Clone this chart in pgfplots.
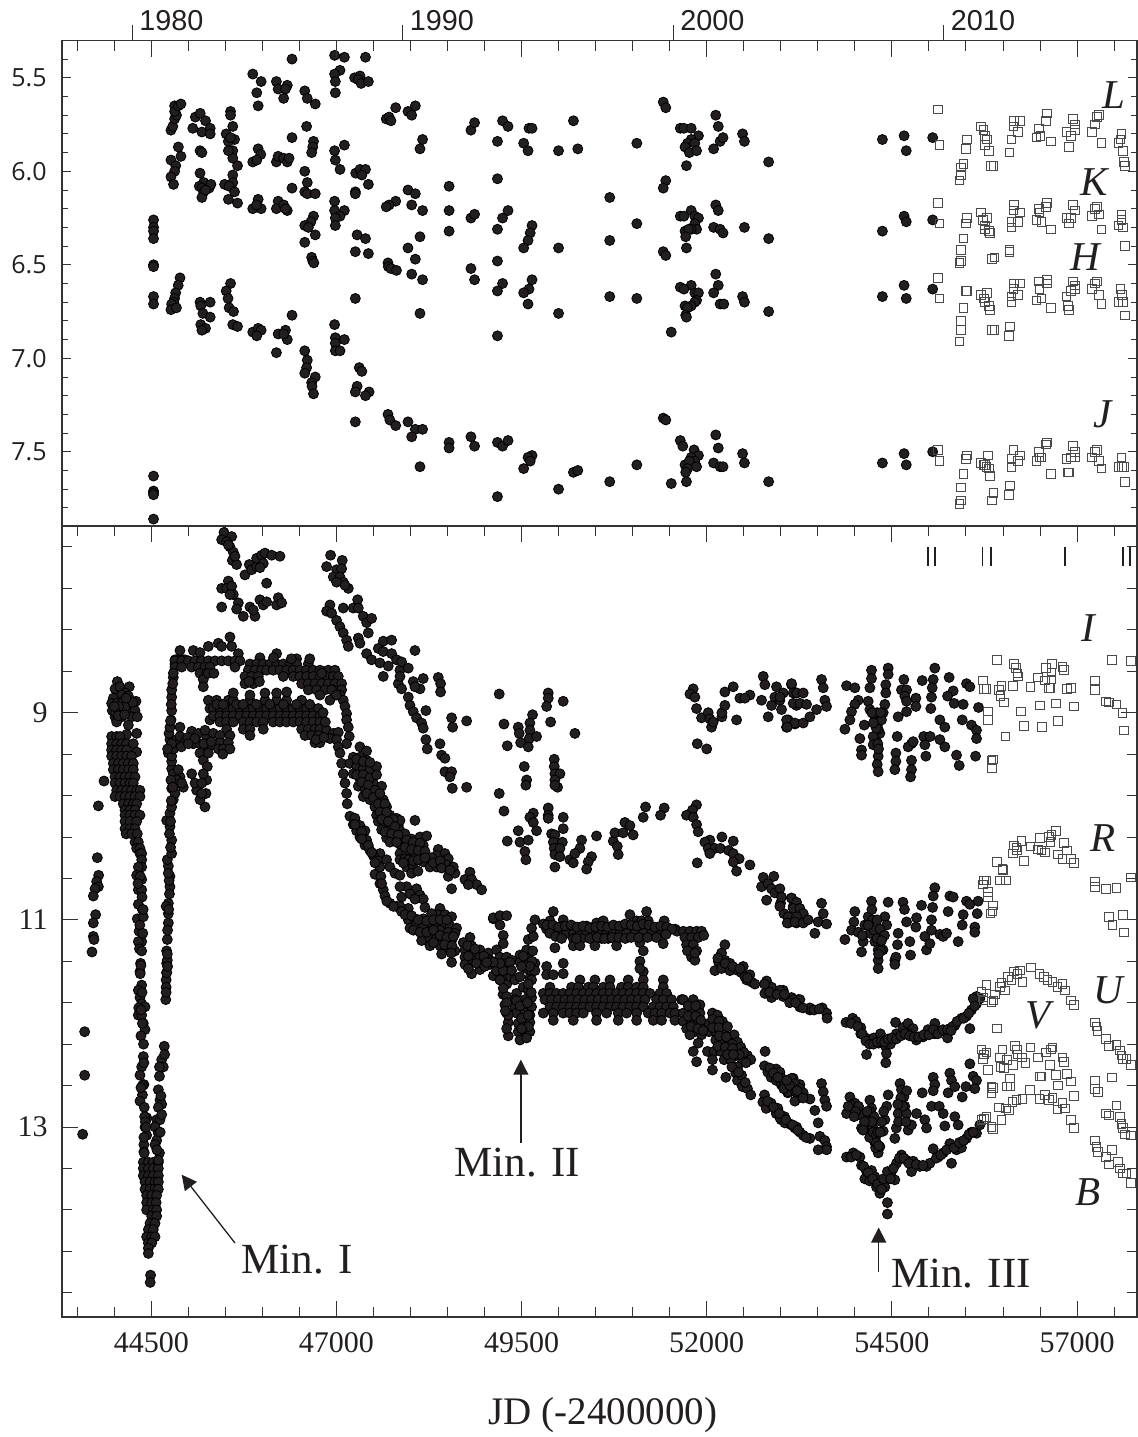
\documentclass[border=0pt]{standalone}
\usepackage{fontspec}
\setmainfont{Liberation Serif}
\newfontfamily\helv{Liberation Sans}
\newfontfamily\myr{Open Sans}
\usepackage{pgfplots}
\pgfplotsset{compat=1.18}
\usetikzlibrary{arrows.meta}
\definecolor{ink}{HTML}{231F20}
\definecolor{boxc}{HTML}{4A4A4A}
\definecolor{axc}{HTML}{333333}
\pgfplotsset{
 dot/.style={only marks,mark=*,mark size=2.5pt,mark options={draw=none,fill=ink}},
 box/.style={only marks,mark=square,mark size=2.15pt,mark options={draw=boxc,line width=0.45pt,fill=none}},
 panel/.style={width=537.5pt,scale only axis,xmin=43294,xmax=57810,y dir=reverse,scaled x ticks=false,
   axis line style={color=axc,line width=0.65pt},tick style={color=axc,line width=0.45pt},tick align=inside},
 jdticks/.style={xtick={44500,47000,49500,52000,54500,57000},
   minor xtick={43500,44000,45000,45500,46000,46500,47500,48000,48500,49000,50000,50500,51000,51500,52500,53000,53500,54000,55000,55500,56000,56500,57500}},
}
\newcommand{\bandlbl}[3]{\node[font=\fontsize{20.5}{20.5}\selectfont\itshape,text=ink] at (axis cs:#1,#2) {#3};}
\begin{document}
\begin{tikzpicture}
\useasboundingbox (0,0) rectangle (568.5pt,718.5pt);
% ---------- infrared panel
\begin{axis}[panel,name=up,at={(31pt,455.5pt)},anchor=south west,height=242.7pt,ymin=5.301,ymax=7.897,
  xtick=\empty,ytick={5.5,6,6.5,7,7.5},minor ytick={5.4,5.6,5.7,5.8,5.9,6.1,6.2,6.3,6.4,6.6,6.7,6.8,6.9,7.1,7.2,7.3,7.4,7.6,7.7,7.8},
  major tick length=4.5pt,minor tick length=3.2pt,
  /pgf/number format/fixed,/pgf/number format/fixed zerofill,/pgf/number format/precision=1,/pgf/number format/assume math mode=true,
  yticklabel style={font=\myr\fontsize{12.5}{12.5}\selectfont,text=ink,inner sep=0pt,xshift=-7.5pt}]
% L
\addplot[dot] table {
44765 5.78
44790 5.76
44815 5.72
44815 5.65
44840 5.70
44815 5.68
44865 5.65
44900 5.64
45095 5.71
45160 5.69
45232 5.73
45060 5.77
45183 5.79
45295 5.77
45295 5.80
45570 5.68
45570 5.70
45600 5.76
45511 5.80
45624 5.83
45541 5.84
45600 5.89
45600 5.93
45664 5.97
45541 5.89
45570 5.82
44530 6.26
44530 6.30
44530 6.32
44530 6.36
45870 5.48
45983 5.52
45924 5.58
45943 5.65
46189 5.52
46213 5.56
46336 5.54
46312 5.56
46287 5.61
46400 5.40
46572 5.57
46606 5.61
46714 5.64
46975 5.38
47107 5.39
47392 5.39
47048 5.46
46975 5.48
46985 5.52
46985 5.58
47245 5.50
47318 5.49
47294 5.51
47333 5.53
47431 5.52
47672 5.72
47711 5.71
47736 5.73
47800 5.66
47966 5.68
48016 5.70
48065 5.65
48163 5.83
48128 5.88
48816 5.78
48865 5.74
49174 5.84
49243 5.73
49317 5.76
49528 5.85
49587 5.89
49600 5.77
49641 5.77
49999 5.89
50200 5.73
50259 5.88
51056 5.85
51413 5.63
51447 5.66
51643 5.77
51692 5.77
51790 5.77
52122 5.70
52156 5.76
51888 5.81
51790 5.83
51741 5.85
51839 5.85
51707 5.87
51765 5.90
51863 5.89
51726 5.97
52093 5.88
52181 5.84
52220 5.82
52484 5.80
52509 5.84
52836 5.95
54372 5.83
54665 5.81
54694 5.89
55051 5.82
};
% K
\addplot[dot] table {
44765 5.94
44865 5.87
44900 5.92
44830 5.97
44815 6.00
44765 6.03
44800 6.07
45158 5.89
45183 5.90
46597 5.76
46400 5.82
46690 5.84
46680 5.87
46665 5.90
45943 5.88
45978 5.91
45870 5.95
45924 5.94
46189 5.95
46213 5.92
46287 5.93
46336 5.95
46360 5.93
46572 6.00
46606 6.06
46572 6.11
46606 6.12
46714 6.12
46400 6.09
46975 5.89
47107 5.86
46985 5.94
47048 5.99
47260 6.01
47318 5.99
47392 5.99
47343 6.02
47431 6.07
47255 6.11
47255 6.12
47966 6.10
48065 6.12
47800 6.16
47711 6.18
47672 6.19
48016 6.18
48163 6.21
48521 6.08
48521 6.21
48521 6.32
48816 6.25
48865 6.23
49174 6.04
49243 6.25
49317 6.21
49641 6.29
49616 6.33
49587 6.37
49528 6.41
49999 6.41
49174 6.31
45158 6.01
45207 6.06
45148 6.08
45183 6.09
45280 6.09
45305 6.07
45207 6.11
45183 6.14
45232 6.10
45600 6.02
45490 6.07
45600 6.06
45551 6.08
45624 6.11
45541 6.15
45664 6.17
45943 6.15
45870 6.20
45983 6.20
45920 6.18
46213 6.16
46189 6.20
46287 6.18
46336 6.21
46312 6.20
46975 6.16
46975 6.21
47107 6.21
47048 6.24
46985 6.25
46985 6.29
46690 6.24
46655 6.27
46572 6.29
46621 6.30
46714 6.34
46572 6.38
51447 6.05
51413 6.09
50690 6.14
51056 6.28
50690 6.37
52122 6.18
52156 6.21
51790 6.21
51643 6.24
51692 6.24
51839 6.24
51888 6.25
51839 6.28
51863 6.31
51790 6.31
51707 6.32
51755 6.31
51716 6.35
51726 6.41
51413 6.43
51447 6.45
52093 6.30
52181 6.31
52220 6.33
52509 6.30
52836 6.36
54372 6.32
54665 6.24
54694 6.27
55051 6.26
};
% H
\addplot[dot] table {
44530 6.50
44530 6.51
44530 6.67
44530 6.71
46665 6.46
46680 6.48
46695 6.49
47279 6.34
47392 6.36
47255 6.43
47431 6.44
48128 6.35
47966 6.41
48065 6.47
47696 6.49
47701 6.51
47736 6.52
47810 6.53
48016 6.55
48163 6.58
47255 6.68
48128 6.76
49174 6.48
48816 6.52
48865 6.58
49243 6.60
49174 6.64
49641 6.58
49600 6.63
49528 6.65
49587 6.71
49999 6.76
49174 6.88
44888 6.57
44863 6.61
44829 6.65
44814 6.68
44804 6.70
44775 6.71
44765 6.74
44839 6.73
45570 6.60
45511 6.64
45536 6.68
45551 6.73
45610 6.75
45600 6.82
45664 6.83
45158 6.70
45168 6.72
45295 6.70
45197 6.76
45295 6.78
45168 6.82
45232 6.84
45183 6.85
45870 6.86
45943 6.84
45983 6.85
45924 6.88
46213 6.87
46312 6.85
46336 6.90
46287 6.87
46189 6.97
46400 6.77
46975 6.82
46985 6.89
47107 6.90
46985 6.92
46985 6.96
47048 6.96
50690 6.67
51056 6.68
52122 6.55
52156 6.61
51790 6.61
51643 6.62
51692 6.63
51839 6.65
51888 6.65
52093 6.65
51863 6.69
51839 6.70
51790 6.72
51707 6.72
51741 6.73
51716 6.77
51726 6.78
51521 6.86
52181 6.71
52230 6.71
52484 6.67
52509 6.70
52836 6.75
54372 6.67
54665 6.61
54694 6.68
55051 6.63
};
% J
\addplot[dot] table {
44530 7.63
44530 7.71
44530 7.72
44530 7.73
44530 7.86
46572 6.96
46606 7.01
46597 7.05
46572 7.08
46714 7.10
46665 7.13
46670 7.15
46690 7.19
47308 7.05
47343 7.07
47279 7.15
47255 7.18
47441 7.18
47392 7.20
47255 7.34
47696 7.30
47721 7.33
47800 7.36
47966 7.34
48065 7.38
48163 7.38
48016 7.42
48128 7.58
48521 7.45
48521 7.48
48816 7.42
48865 7.47
49174 7.45
49243 7.47
49317 7.44
49174 7.74
49641 7.52
49587 7.53
49616 7.55
49528 7.59
49999 7.70
50200 7.61
50259 7.60
50690 7.66
51056 7.57
51413 7.32
51447 7.33
51643 7.44
51677 7.47
52122 7.41
52156 7.48
51829 7.49
51888 7.52
51790 7.53
51839 7.55
51707 7.57
51765 7.55
51863 7.58
51741 7.59
51716 7.61
51726 7.66
51521 7.67
52093 7.56
52181 7.58
52220 7.58
52484 7.51
52509 7.56
52836 7.66
54372 7.56
54665 7.51
54694 7.57
55051 7.50
};
% open squares L K H J
\addplot[box] table {
55120 5.67
55144 5.86
55413 6.05
55433 6.02
55433 5.98
55467 5.96
55501 5.88
55511 5.83
55702 5.76
55736 5.78
55760 5.81
55785 5.83
55760 5.86
55814 5.89
55834 5.97
55873 5.97
56088 5.90
56117 5.83
56142 5.76
56152 5.73
56230 5.73
56200 5.79
56450 5.82
56484 5.77
56508 5.81
56592 5.69
56582 5.73
56646 5.84
56856 5.79
56890 5.87
56914 5.81
56948 5.72
56973 5.75
56973 5.78
57203 5.79
57242 5.75
57267 5.71
57296 5.70
57330 5.85
57560 5.85
57599 5.80
57584 5.83
57624 5.89
57634 5.95
57648 5.97
55120 6.17
55144 6.28
55413 6.49
55433 6.48
55433 6.42
55467 6.36
55501 6.28
55511 6.25
55702 6.22
55726 6.26
55785 6.25
55760 6.29
55760 6.31
55814 6.32
55824 6.33
55849 6.47
55883 6.46
56088 6.43
56088 6.42
56117 6.30
56117 6.27
56142 6.21
56152 6.18
56230 6.22
56200 6.27
56450 6.26
56484 6.20
56494 6.22
56518 6.27
56592 6.17
56582 6.19
56646 6.31
56856 6.25
56890 6.28
56914 6.25
56948 6.18
56973 6.21
57203 6.24
57242 6.20
57267 6.19
57296 6.23
57330 6.31
57560 6.29
57599 6.23
57599 6.26
57624 6.30
57648 6.40
55120 6.57
55144 6.68
55413 6.91
55433 6.85
55433 6.80
55467 6.73
55501 6.64
55511 6.64
55702 6.66
55785 6.65
55760 6.70
55741 6.68
55814 6.72
55824 6.74
55849 6.85
55883 6.85
56078 6.88
56093 6.83
56117 6.70
56117 6.67
56142 6.63
56152 6.60
56230 6.60
56200 6.66
56450 6.69
56484 6.59
56494 6.63
56518 6.68
56592 6.58
56592 6.60
56646 6.73
56856 6.67
56880 6.72
56890 6.74
56914 6.64
56948 6.59
56973 6.61
56973 6.63
57203 6.63
57242 6.60
57267 6.59
57296 6.66
57330 6.71
57584 6.63
57609 6.66
57560 6.70
57624 6.70
57648 6.77
55120 7.49
55144 7.55
55413 7.78
55433 7.76
55433 7.69
55467 7.62
55501 7.54
55511 7.52
55702 7.56
55736 7.57
55760 7.57
55775 7.58
55795 7.52
55809 7.59
55824 7.63
55849 7.76
55873 7.72
56078 7.73
56093 7.68
56117 7.58
56117 7.54
56142 7.49
56200 7.55
56230 7.52
56450 7.55
56484 7.50
56494 7.53
56518 7.53
56582 7.46
56592 7.45
56646 7.62
56856 7.54
56880 7.61
56890 7.61
56914 7.53
56948 7.47
56973 7.50
56973 7.53
57203 7.53
57242 7.50
57267 7.49
57296 7.55
57330 7.59
57560 7.58
57599 7.53
57609 7.58
57634 7.58
57648 7.66
};
\bandlbl{57499}{5.59}{L}
\bandlbl{57228}{6.06}{K}
\bandlbl{57107}{6.46}{H}
\bandlbl{57350}{7.30}{J}
\end{axis}
% x ticks of the infrared panel, top edge only
\begin{axis}[panel,at={(31pt,455.5pt)},anchor=south west,height=242.7pt,ymin=5.301,ymax=7.897,
  jdticks,xtick pos=top,xticklabels={},ytick=\empty,major tick length=8pt,minor tick length=5pt]
\end{axis}
% year scale on top
\begin{axis}[width=537.5pt,scale only axis,at={(31pt,455.5pt)},anchor=south west,height=242.7pt,scaled x ticks=false,
  xmin=43294,xmax=57810,ymin=0,ymax=1,axis y line=none,axis x line*=top,x axis line style={draw=none},
  tick align=outside,major tick length=8pt,tick style={color=axc,line width=0.5pt},
  xtick={44240,47892,51545,55198},xticklabels={1980,1990,2000,2010},
  xticklabel style={font=\helv\fontsize{14.4}{14.4}\selectfont,text=ink,inner sep=0pt,anchor=south west,xshift=3.5pt,yshift=-3.2pt}]
\end{axis}
% ---------- optical panel
\begin{axis}[panel,at={(31pt,60pt)},anchor=south west,height=395.5pt,ymin=7.198,ymax=14.834,
  jdticks,ytick={9,11,13},minor ytick={7.4,7.8,8.2,8.6,9.4,9.8,10.2,10.6,11.4,11.8,12.2,12.6,13.4,13.8,14.2,14.6},
  major tick length=8pt,minor tick length=5pt,
  /pgf/number format/fixed,/pgf/number format/precision=0,/pgf/number format/1000 sep={},/pgf/number format/assume math mode=true,
  xticklabel style={font=\fontsize{15}{15}\selectfont,text=ink,inner sep=0pt,yshift=-7.5pt},
  yticklabel style={font=\fontsize{15}{15}\selectfont,text=ink,inner sep=0pt,xshift=-7pt},
  xlabel={JD (-2400000)},
  xlabel style={font=\fontsize{19.5}{19.5}\selectfont,text=ink,at={(axis description cs:0.503,-0.1365)},anchor=base,inner sep=0pt}]
% first points and the fall into Min. I
\addplot[dot] table {
43861 9.66
43785 9.90
43771 10.40
43789 10.57
43762 10.63
43785 10.68
43740 10.70
43717 10.77
43748 10.95
43717 11.03
43717 11.16
43726 11.19
43699 11.31
43600 12.08
43600 12.50
43573 13.07
44041 8.70
44010 8.77
44077 8.75
44203 8.75
44145 8.81
44100 8.83
43987 8.86
44190 8.84
44293 8.89
43964 8.91
44032 8.91
44122 8.89
44235 8.94
43973 8.98
44077 8.98
44190 8.98
44280 8.98
44010 9.04
44100 9.04
44235 9.04
44311 9.04
44032 9.09
44190 9.12
44167 9.21
44302 9.20
44145 8.94
44060 8.94
44020 9.00
44055 9.03
44140 9.02
44250 8.90
44160 8.86
44000 8.94
43964 9.23
44032 9.23
44077 9.23
43964 9.30
44032 9.30
44100 9.30
44167 9.30
44257 9.30
43964 9.36
44032 9.36
44100 9.36
44167 9.36
44302 9.38
43964 9.42
44032 9.42
44100 9.42
44167 9.42
44235 9.42
43987 9.49
44055 9.49
44122 9.49
44190 9.49
44257 9.49
43987 9.55
44055 9.55
44122 9.55
44190 9.55
44257 9.55
44010 9.62
44077 9.62
44145 9.62
44212 9.62
44280 9.62
44010 9.68
44077 9.68
44145 9.68
44212 9.68
44257 9.68
44032 9.75
44100 9.75
44167 9.75
44235 9.75
44302 9.75
44347 9.75
44010 9.81
44077 9.81
44145 9.81
44212 9.81
44280 9.81
44347 9.81
44122 9.88
44190 9.88
44257 9.88
44302 9.88
44145 9.94
44212 9.94
44280 9.94
44145 9.99
44212 9.99
44280 9.99
44347 9.99
44145 10.05
44212 10.05
44302 10.05
44145 10.12
44212 10.12
44280 10.12
44160 10.17
44235 10.17
44311 10.17
44280 10.25
44325 10.25
44302 10.31
44347 10.31
44347 10.36
44370 10.36
44370 10.42
44370 10.49
44325 10.49
44302 10.57
44370 10.61
44325 10.71
44370 10.71
44380 10.90
44311 10.99
44392 10.97
44335 11.11
44370 11.21
44325 11.21
44355 11.42
44347 11.50
44360 11.44
44350 11.52
44370 11.63
44325 11.68
44347 11.75
44370 11.81
44415 11.84
44325 11.92
44370 11.92
44392 12.00
44415 12.06
44360 12.12
44392 12.32
44370 12.42
44347 12.50
44400 12.59
44380 12.69
44347 12.75
44405 12.81
44437 12.91
44415 13.00
44437 13.08
44400 13.17
44400 13.24
44392 13.34
44460 13.34
44527 13.34
44595 13.34
44392 13.40
44460 13.40
44527 13.40
44595 13.40
44392 13.47
44460 13.47
44527 13.47
44595 13.47
44415 13.53
44482 13.53
44550 13.53
44595 13.53
44415 13.60
44482 13.60
44550 13.60
44595 13.60
44437 13.66
44505 13.66
44572 13.66
44437 13.73
44505 13.73
44565 13.73
44437 13.80
44527 13.80
44572 13.80
44505 13.86
44572 13.86
44482 13.93
44550 13.93
44460 13.99
44527 13.99
44437 14.06
44505 14.06
44550 14.06
44460 14.12
44505 14.12
44460 14.17
44460 14.22
44490 14.43
44485 14.50
44707 11.42
44707 11.51
44700 11.58
44695 11.77
44675 12.22
44640 12.35
44662 12.42
44610 12.42
44610 12.51
44595 12.64
44617 12.74
44640 12.78
44595 12.81
44572 12.93
44617 12.93
44550 13.00
44595 13.06
44572 13.13
44550 13.17
44610 13.25
44595 13.32
44350 10.58
44320 10.65
44375 10.78
44325 10.85
44390 10.90
44345 11.05
44385 11.13
44340 11.28
44370 11.30
44375 11.70
44330 11.85
44360 11.87
44380 12.00
44395 12.20
44400 12.38
44380 12.60
44360 12.62
44410 12.90
44420 12.95
44400 13.10
44405 13.25
44430 13.00
44700 11.65
44700 11.70
44680 12.30
44630 12.70
44640 12.88
44620 13.05
44575 13.22
};
% rise out of Min. I and the two arches up to JD 47000
\addplot[dot] table {
44707 11.51
44716 11.39
44707 11.30
44716 11.19
44730 11.03
44730 10.94
44730 10.84
44700 10.87
44752 10.68
44752 10.58
44730 10.48
44716 10.42
44775 10.36
44775 10.23
44752 10.10
44707 10.04
44752 9.97
44775 9.91
44797 9.84
44775 9.73
44797 9.65
44775 9.54
44775 9.47
44730 9.39
44775 9.42
44752 9.26
44739 9.20
44752 9.14
44766 9.07
44775 8.98
44775 8.85
44775 8.78
44797 8.66
44820 8.53
44842 8.49
44887 8.40
44820 8.49
44910 8.49
44955 8.49
45067 8.40
45157 8.42
45270 8.36
45405 8.33
45562 8.27
45450 8.36
45585 8.36
45675 8.43
44820 8.50
44910 8.50
45000 8.50
45090 8.50
45180 8.50
45270 8.50
45360 8.50
45450 8.50
45540 8.50
45630 8.50
45697 8.50
44820 8.56
44910 8.56
45045 8.56
45135 8.56
45225 8.56
45292 8.56
45630 8.56
44797 8.62
45157 8.62
45247 8.62
45202 8.68
45202 8.75
45270 8.62
45345 8.62
44842 9.26
44887 9.14
44887 9.23
44955 9.28
45045 9.18
45135 9.20
45067 9.30
45157 9.30
45247 9.23
45337 9.20
45270 9.33
45157 9.39
45202 9.46
44797 9.59
44887 9.62
44865 9.55
44932 9.72
44820 9.78
44842 9.65
44910 9.68
45270 8.88
45292 8.96
45292 9.07
45270 9.39
45256 9.52
45247 9.65
45238 9.78
45225 9.91
45157 9.84
45112 9.75
45045 9.59
45090 9.68
45180 9.68
45180 9.78
45202 9.59
45382 8.88
45540 8.88
45607 8.88
45832 8.88
46035 8.88
46192 8.88
46327 8.88
46530 8.88
45337 8.96
45427 8.96
45517 8.96
45607 8.96
45697 8.96
45787 8.96
45877 8.96
45967 8.96
46057 8.96
46147 8.96
46237 8.96
46327 8.96
46417 8.96
46507 8.96
46597 8.96
46687 8.96
46755 8.96
45337 9.03
45427 9.03
45517 9.03
45607 9.03
45697 9.03
45787 9.03
45877 9.03
45967 9.03
46057 9.03
46147 9.03
46237 9.03
46327 9.03
46417 9.03
46507 9.03
46597 9.03
46687 9.03
46777 9.03
45427 9.09
45517 9.09
45607 9.09
45742 9.09
45832 9.09
45922 9.09
46012 9.09
46147 9.09
46237 9.09
46327 9.09
46417 9.09
46507 9.09
46597 9.09
46687 9.09
46777 9.09
45517 9.16
45742 9.16
45832 9.16
46012 9.16
46530 9.16
46620 9.16
46710 9.16
46777 9.16
45427 9.22
45562 9.22
45832 9.22
46575 9.22
46665 9.22
46755 9.22
45427 9.29
45540 9.29
46710 9.29
46777 9.29
45405 9.35
45472 9.35
45562 9.35
45465 9.40
46192 8.43
45967 8.47
46462 8.48
45832 8.53
45922 8.53
46012 8.53
46102 8.53
46192 8.53
46282 8.53
46372 8.53
46462 8.53
46620 8.53
45810 8.59
45900 8.59
45990 8.59
46057 8.59
46147 8.59
46237 8.59
46327 8.59
46417 8.59
46507 8.59
46597 8.59
46687 8.59
46777 8.59
46890 8.59
46980 8.59
45765 8.65
45855 8.65
45945 8.65
46282 8.65
46417 8.65
46507 8.65
46597 8.65
46687 8.65
46777 8.65
46867 8.65
46957 8.65
47025 8.65
45765 8.72
45877 8.72
46530 8.72
46620 8.72
46710 8.72
46800 8.72
46890 8.72
46980 8.72
47070 8.72
46620 8.78
46732 8.78
46845 8.78
46957 8.78
47070 8.78
46777 8.83
47047 8.83
45607 8.81
45832 8.83
46035 8.81
46192 8.81
46327 8.80
46912 8.88
47092 8.88
46867 9.17
46957 9.20
47025 9.19
46912 9.25
47115 8.94
47137 9.01
47137 9.07
47160 9.14
47173 9.23
47137 9.30
47002 9.26
47025 9.33
47047 9.39
47070 9.49
47092 9.59
47115 9.68
47137 9.78
47146 9.88
44720 11.45
44716 11.33
44720 11.10
44735 10.90
44745 10.75
44740 10.62
44730 10.55
44760 10.30
44745 10.17
44760 10.05
44770 9.85
44765 9.65
44790 9.72
44760 9.32
44800 9.35
44775 9.30
44720 9.35
44760 9.08
44770 8.92
44790 8.72
44905 9.33
44990 9.24
45090 9.25
45210 9.30
45310 9.28
45225 9.17
45000 9.30
45385 8.92
45470 8.92
45650 8.92
45740 8.92
45920 8.92
46100 8.92
46285 8.92
46460 8.92
46640 8.92
46820 9.00
46850 9.09
46725 9.26
46830 9.24
46390 8.48
46150 8.47
46640 8.48
45960 8.70
45820 8.70
46800 8.62
46935 8.78
47000 8.83
};
% I, left part
\addplot[dot] table {
45481 7.26
45585 7.30
45450 7.33
45517 7.35
45562 7.40
45607 7.45
45594 7.53
45652 7.57
45630 7.49
45540 7.38
45765 7.67
45823 7.57
45855 7.62
45922 7.59
45922 7.51
45990 7.48
46035 7.46
46012 7.56
45967 7.60
46125 7.48
46237 7.49
46057 7.75
45540 7.73
45450 7.80
45517 7.80
45585 7.78
45607 7.86
45562 7.86
45675 7.94
45652 8.00
45450 7.98
45742 8.07
45832 7.98
45900 8.07
45877 8.01
45967 7.91
46012 7.96
46057 7.93
46192 7.96
46215 7.89
46260 7.94
46921 7.48
47078 7.53
46867 7.59
47002 7.62
47070 7.61
46957 7.69
47047 7.69
47092 7.74
47002 7.74
47160 7.80
47115 7.77
46912 7.96
46867 8.02
46935 8.04
47002 8.11
47047 8.17
47092 8.23
47137 8.30
47160 8.36
47295 8.28
47317 8.33
47407 8.43
47475 8.49
47092 7.99
47227 7.99
47286 7.91
47295 7.99
47362 8.07
47407 8.13
47475 8.09
47430 8.23
47565 8.38
47632 8.31
47745 8.30
47632 8.41
47587 8.52
47632 8.65
47700 8.55
47745 8.43
47812 8.49
47857 8.59
47835 8.72
47880 8.51
47970 8.57
48060 8.40
47858 8.65
47880 8.77
48037 8.70
48172 8.67
48128 8.77
48060 8.75
48375 8.66
48406 8.72
48406 8.80
47970 8.85
47993 8.93
48037 8.99
48082 9.05
48150 9.10
48172 9.15
48208 8.98
48208 9.26
48226 9.35
48398 9.30
48420 9.41
48465 9.44
48465 9.57
48555 9.57
48532 9.62
48564 9.73
48758 9.72
48555 9.05
48569 9.14
48758 9.08
49198 8.82
49262 9.11
49307 9.32
49455 9.14
49468 9.20
49487 9.29
49648 9.02
49612 9.10
49612 9.17
49603 9.25
49590 9.33
49702 9.23
49860 8.81
49860 8.86
49838 8.94
50062 8.89
49892 9.09
50220 9.20
49536 9.52
49568 9.65
49558 9.70
49941 9.45
49941 9.52
49950 9.59
50018 9.59
49950 9.65
49986 9.72
49950 9.70
};
% R, left and centre
\addplot[dot] table {
49198 9.78
49262 9.95
49658 9.97
49612 10.01
49658 10.06
49702 10.14
49860 9.92
49860 9.99
49860 10.02
50062 10.01
50062 10.12
49455 10.14
49478 10.25
49307 10.24
49590 10.23
49545 10.34
49558 10.42
49905 10.17
49950 10.18
49928 10.25
49941 10.31
49950 10.37
49950 10.49
50050 10.25
50018 10.31
50018 10.39
50152 10.42
50198 10.45
50310 10.23
50288 10.31
50220 10.36
50512 10.19
50445 10.39
50400 10.44
50378 10.51
50738 10.24
50792 10.29
50805 10.37
50760 10.16
50872 10.16
50895 10.06
50963 10.09
51007 10.18
51174 9.91
51142 10.01
51426 9.92
51376 9.99
51862 9.89
51808 9.94
51727 9.99
51818 10.01
51863 10.08
51885 10.15
51872 10.45
52042 10.23
51975 10.25
52020 10.31
52110 10.31
52205 10.20
52042 10.36
52183 10.31
52295 10.33
52358 10.24
52358 10.36
52438 10.41
52358 10.44
52403 10.53
52583 10.47
52763 10.59
52906 10.58
52740 10.68
52830 10.65
52875 10.70
52808 10.81
52920 10.74
52997 10.84
53042 10.94
53145 10.79
53168 10.87
53100 11.03
53212 11.03
53235 10.94
52988 10.70
53010 10.78
52988 10.87
53145 10.79
53213 10.83
53168 10.89
53258 10.89
53303 10.94
53100 10.97
53213 10.97
53087 11.03
53190 11.02
53303 11.03
53370 11.00
53460 11.13
53550 10.84
53573 10.94
53505 11.02
53618 11.04
54000 10.92
53987 11.02
53955 11.10
53866 11.19
54090 11.31
54045 11.12
54113 11.21
54225 10.82
54180 10.97
54135 11.05
54203 11.13
54270 11.21
54315 11.29
54315 11.39
54315 11.47
54380 11.29
54405 10.97
54450 10.83
54430 11.05
54540 11.39
54554 11.36
54540 11.43
54576 11.24
54585 11.13
54650 10.83
54670 10.90
54698 11.02
54743 11.21
54752 11.34
54833 10.98
54824 11.07
54900 10.86
54945 11.16
54968 11.29
55013 11.23
55035 11.00
55035 11.10
55050 10.88
55080 10.69
55058 10.77
55148 11.14
55193 11.16
55260 10.92
55283 10.77
55328 10.78
55395 11.21
55238 11.13
55450 11.05
55463 10.95
55508 10.82
55553 10.85
55665 10.82
55652 10.94
55620 11.07
55620 11.12
54230 10.90
54240 11.00
54260 11.10
54300 11.18
54300 11.00
54340 11.09
54350 11.30
54400 11.15
54360 11.20
54320 11.33
54180 11.05
54100 11.15
};
% I, right part
\addplot[dot] table {
51817 8.77
51773 8.82
51840 8.85
51862 8.96
51930 9.05
52020 9.00
52042 9.06
52065 9.14
52088 9.09
52205 9.04
52205 9.00
52245 8.80
52245 8.93
52358 8.75
52403 9.07
52448 8.86
52583 8.83
52515 8.86
52763 8.65
52785 8.73
52740 8.88
52830 9.04
52875 8.93
52942 8.75
52920 8.85
52988 8.88
53033 8.81
53010 8.97
53100 9.07
53145 8.73
53077 9.14
53190 9.11
53212 8.93
53212 8.81
51872 9.30
52000 9.35
52988 8.85
53145 8.72
53168 8.81
53213 8.81
53303 8.81
53168 8.91
53258 8.91
53348 8.92
53078 9.07
53190 9.10
53303 9.10
53393 9.04
53483 8.97
53550 8.68
53573 8.76
53595 8.88
53618 8.94
53087 9.14
53888 8.74
54000 8.76
54045 8.88
54000 8.92
53955 8.99
53933 9.07
53866 9.16
54127 9.12
54068 9.25
54090 9.36
54090 9.41
54225 8.59
54225 8.67
54203 8.76
54180 8.89
54203 8.97
54270 9.04
54315 9.10
54338 9.20
54293 9.28
54315 9.42
54302 9.50
54315 9.57
54450 8.57
54450 8.63
54418 8.73
54418 8.81
54405 8.92
54383 9.00
54360 9.07
54315 9.16
54248 9.23
54248 9.31
54662 8.68
54630 8.78
54698 8.78
54675 8.84
54698 8.89
54585 9.04
54698 8.99
54572 9.23
54554 9.39
54554 9.47
54540 9.55
54824 8.86
54824 8.94
54765 9.46
54765 9.55
54752 9.62
54765 9.30
54720 9.33
54788 9.28
54910 8.69
55080 8.57
55058 8.68
55045 8.76
55035 8.85
55026 8.96
54930 9.23
55017 9.23
54945 9.31
54959 9.42
55148 9.07
55215 9.14
55148 9.26
55215 9.33
55273 8.66
55328 8.79
55252 8.84
55341 8.91
55463 8.92
55508 8.72
55553 8.75
55450 9.07
55575 9.12
55643 9.17
55643 9.25
55670 8.95
55373 9.41
55409 9.51
55630 9.42
54300 9.00
54290 9.15
54310 9.30
54320 9.35
54250 9.10
54230 9.00
54350 9.00
};
% decline of the two lower bands, JD 47000-49500
\addplot[dot] table {
47317 9.33
47407 9.37
47227 9.43
47317 9.43
47407 9.46
47182 9.49
47272 9.52
47362 9.54
47452 9.55
47542 9.52
47227 9.59
47317 9.64
47407 9.65
47497 9.68
47295 9.71
47385 9.74
47475 9.76
47610 9.71
47362 9.81
47452 9.84
47542 9.83
47632 9.84
47520 9.91
47610 9.93
47677 9.91
47542 9.99
47632 10.00
47722 9.99
47812 10.02
47565 10.05
47655 10.07
47745 10.09
47835 10.09
47610 10.13
47700 10.14
47790 10.16
47857 10.14
47677 10.21
47767 10.22
47857 10.22
47857 10.27
47587 10.36
47182 10.00
47250 10.02
47227 10.08
47317 10.09
47272 10.14
47385 10.14
47317 10.20
47407 10.23
47385 10.28
47452 10.33
47497 10.38
47565 10.43
47542 10.56
47520 10.56
47587 10.49
47587 10.65
47632 10.71
47655 10.77
47722 10.84
47812 10.87
47857 10.89
47677 10.42
47722 10.49
47790 10.55
47857 10.57
47858 10.04
47925 10.17
48015 10.22
48128 10.20
48218 10.19
47903 10.25
47993 10.28
48082 10.28
48172 10.28
48375 10.32
48465 10.36
47858 10.36
47948 10.36
48060 10.36
48150 10.36
48263 10.41
48353 10.38
48443 10.43
48510 10.41
47858 10.42
47948 10.49
48037 10.49
48172 10.44
48263 10.49
48353 10.49
48488 10.47
48555 10.52
48510 10.58
48600 10.55
48578 10.49
47925 10.41
48803 10.54
48735 10.61
48825 10.61
48893 10.66
48960 10.71
48780 10.66
48555 10.70
48060 10.04
47948 10.68
48082 10.70
47993 10.75
48128 10.76
48172 10.80
48060 10.80
48195 10.88
47970 10.89
47858 10.68
47880 10.78
47858 10.87
48398 10.89
48375 10.95
48465 10.95
48555 10.97
48285 10.94
47970 11.00
48060 10.99
48172 10.99
48263 11.03
48353 11.04
48443 11.04
48532 11.06
48622 11.08
47993 11.08
48082 11.04
48172 11.07
48398 11.10
48510 11.12
48600 11.13
48150 11.20
48263 11.17
48353 11.17
48443 11.19
48555 11.20
48263 11.25
48398 11.25
48510 11.27
48600 11.30
48420 11.33
48555 11.41
48803 11.17
48712 11.22
48825 11.25
48735 11.29
48825 11.33
48937 11.29
49050 11.32
48735 11.36
48825 11.39
48937 11.36
49050 11.38
48735 11.43
48825 11.52
48937 11.48
49118 10.99
49208 11.05
49252 11.15
49252 11.23
49162 11.29
49208 11.36
49298 11.36
49365 11.39
49072 11.43
49162 11.45
49252 11.49
49342 11.47
49118 11.54
49208 11.58
49028 11.41
49118 10.98
49208 10.96
49298 10.96
47272 9.45
47362 9.47
47452 9.48
47272 9.60
47362 9.60
47452 9.63
47542 9.60
47340 9.67
47430 9.70
47520 9.75
47410 9.78
47497 9.82
47587 9.78
47565 9.88
47655 9.88
47587 9.96
47677 9.96
47767 10.03
47610 10.03
47700 10.05
47790 10.10
47655 10.15
47745 10.17
47835 10.18
47722 10.25
47812 10.25
47948 10.23
48037 10.25
48128 10.26
47925 10.30
48015 10.32
48105 10.33
48195 10.34
48285 10.40
47970 10.42
48037 10.43
48105 10.42
48195 10.40
48308 10.45
48400 10.43
48420 10.50
48533 10.52
47903 10.45
48015 10.55
48100 10.53
47250 10.08
47340 10.15
47340 10.22
47430 10.28
47475 10.35
47520 10.45
47600 10.58
47610 10.65
47680 10.82
47770 10.87
47880 10.92
47925 10.95
48015 10.96
48105 11.00
48217 11.01
48310 11.00
48400 11.00
48490 11.00
48040 11.10
48130 11.12
48220 11.12
48310 11.10
48400 11.15
48490 11.17
48580 11.16
48310 11.22
48460 11.24
48560 11.25
48550 11.32
48770 11.25
48870 11.28
48780 11.35
48890 11.42
48780 11.47
48990 11.35
49100 11.40
49000 11.45
49180 11.50
49300 11.42
49280 11.55
49300 11.62
49250 11.72
49350 11.55
};
% Min. II and the B plateau
\addplot[dot] table {
49680 11.00
49635 11.08
49590 11.19
49658 11.16
49568 11.29
49478 11.34
49590 11.37
49478 11.41
49568 11.47
49658 11.47
49612 11.56
49432 11.71
49410 11.77
49545 11.77
49635 11.75
49298 11.74
49275 11.82
49410 11.84
49545 11.84
49635 11.84
49298 11.90
49432 11.90
49545 11.90
49612 11.92
49320 11.99
49455 12.00
49545 12.00
49612 11.99
49320 12.12
49298 12.05
49455 12.08
49545 12.08
49612 12.08
49478 12.16
49568 12.14
49208 11.58
49252 11.66
49162 11.49
49252 11.49
49208 11.42
49118 11.41
49028 11.41
49342 11.41
49365 11.49
49410 11.58
49478 11.55
49522 11.65
49568 11.47
49635 11.49
49838 11.45
50062 11.42
50062 11.52
49838 11.53
49928 11.53
49680 11.42
49680 11.49
49635 11.58
49590 11.68
49300 11.80
49320 11.92
49280 11.88
49430 11.78
49480 11.83
49500 11.95
49580 11.80
49590 11.92
49590 12.03
49500 12.05
49630 11.70
49590 11.62
49650 11.30
49640 11.40
49610 11.45
49500 11.45
49525 11.35
};
% U plateau and its slow fall
\addplot[dot] table {
49928 10.92
50062 11.00
49793 11.04
49883 11.01
49928 11.09
49838 11.09
50062 11.06
50018 11.14
50152 11.09
50288 11.08
50378 11.06
50512 11.03
50603 11.01
50738 11.08
50963 10.95
51188 10.92
51053 11.01
51120 11.01
51210 11.01
51426 11.01
51575 11.09
50108 11.13
50198 11.13
50288 11.13
50378 11.13
50468 11.13
50558 11.13
50648 11.13
50738 11.13
50828 11.13
50918 11.13
51030 11.13
51143 11.13
51255 11.13
51390 11.13
50198 11.18
50310 11.18
50580 11.18
50670 11.18
50198 11.25
50288 11.25
50490 11.25
50783 11.25
51098 11.22
51412 11.23
51143 11.30
49950 11.27
51098 11.40
51143 11.50
51098 11.47
51600 11.11
51683 11.11
51773 11.11
51863 11.11
51930 11.11
51705 11.17
51795 11.17
51885 11.17
51728 11.24
51818 11.24
51863 11.30
51795 11.36
51840 11.39
52245 11.24
52200 11.32
52155 11.40
52245 11.39
52313 11.42
52110 11.49
52200 11.47
52313 11.49
52425 11.49
52493 11.45
52470 11.51
52583 11.53
52515 11.55
52538 11.58
52605 11.60
52808 11.59
52875 11.65
52785 11.71
52875 11.75
53033 11.68
53145 11.75
53235 11.77
52988 11.68
53033 11.74
53168 11.77
53258 11.77
53258 11.84
53258 11.84
53393 11.87
53393 11.85
53560 11.85
53618 11.90
53625 11.95
53880 11.99
53970 11.95
54015 11.98
54080 12.04
54080 12.10
54145 12.14
54190 12.17
54255 12.14
54345 12.10
54322 12.19
54413 12.22
54480 12.20
54158 12.30
54427 12.29
54418 12.38
54550 11.99
54560 12.10
54650 12.04
54718 12.00
54785 12.05
54718 12.10
54830 12.16
54920 12.13
54988 12.06
55080 12.00
55080 12.10
55148 12.08
55252 12.14
55283 12.05
55350 12.02
55440 11.95
55508 11.93
55553 12.05
55575 11.87
55643 11.81
55643 11.74
55688 11.76
55598 11.76
49840 11.05
49920 11.05
50000 11.07
50090 11.06
50170 11.05
50250 11.07
50330 11.06
50420 11.08
50500 11.07
50580 11.06
50660 11.07
50740 11.05
50820 11.06
50900 11.04
50980 11.05
51060 11.06
51140 11.04
51220 11.05
51300 11.07
51380 11.06
51460 11.07
51530 11.09
49880 11.13
49960 11.16
50040 11.18
50240 11.18
50420 11.18
50520 11.17
50620 11.18
50720 11.17
50810 11.17
50900 11.18
50980 11.17
51080 11.17
51200 11.17
51320 11.17
51450 11.14
51960 11.15
51740 11.30
51840 11.32
52150 11.37
52250 11.42
52350 11.45
52450 11.47
52550 11.56
52650 11.62
52780 11.62
52850 11.70
52950 11.72
53050 11.72
53120 11.80
53200 11.80
53300 11.85
53450 11.87
53520 11.86
53950 12.00
54040 12.03
54100 12.10
54150 12.17
54200 12.20
54250 12.20
54300 12.18
54360 12.17
54400 12.18
54450 12.15
54500 12.14
54560 12.15
54620 12.12
54680 12.10
54740 12.12
54800 12.13
54860 12.13
54930 12.11
55000 12.11
55060 12.06
55120 12.10
55190 12.06
55250 12.06
55320 12.03
55380 11.98
55470 11.95
55540 11.90
55620 11.83
55300 12.07
};
% B plateau rows
\addplot[dot] table {
50288 11.58
50490 11.58
50693 11.58
50940 11.58
51143 11.58
51413 11.58
49883 11.65
50175 11.65
50265 11.65
50400 11.65
50468 11.65
50603 11.65
50693 11.65
50850 11.65
50940 11.65
51053 11.65
51143 11.65
51413 11.65
49793 11.71
49883 11.71
49973 11.71
50062 11.71
50152 11.71
50243 11.71
50333 11.71
50423 11.71
50512 11.71
50603 11.71
50693 11.71
50783 11.71
50872 11.71
50963 11.71
51053 11.71
51143 11.71
51233 11.71
51368 11.71
51458 11.71
49815 11.77
49905 11.77
49995 11.77
50085 11.77
50175 11.77
50265 11.77
50355 11.77
50445 11.77
50535 11.77
50625 11.77
50715 11.77
50805 11.77
50895 11.77
50985 11.77
51075 11.77
51165 11.77
51323 11.77
51413 11.77
51525 11.77
51660 11.77
49883 11.84
49973 11.84
50062 11.84
50152 11.84
50243 11.84
50333 11.84
50423 11.84
50512 11.84
50603 11.84
50693 11.84
50783 11.84
50872 11.84
50963 11.84
51053 11.84
51143 11.84
51278 11.84
51368 11.84
51458 11.84
51548 11.84
49793 11.90
49928 11.90
50062 11.90
50152 11.90
50243 11.90
50333 11.90
50512 11.90
50648 11.90
50805 11.90
50918 11.90
51053 11.90
51210 11.90
51300 11.90
51390 11.90
51503 11.90
51570 11.90
49928 11.97
50198 11.97
50512 11.97
50805 11.97
51053 11.97
51278 11.97
51390 11.97
51570 11.97
};
% the two bands falling after JD 51700
\addplot[dot] table {
51683 11.77
51818 11.77
51908 11.82
51683 11.90
51818 11.87
51908 11.90
51683 11.98
51795 11.98
51885 11.98
51953 12.03
51728 12.05
51840 12.08
51930 12.11
51773 12.11
51885 12.19
51818 12.27
51863 12.37
52077 11.90
52145 11.92
52032 12.00
52122 12.00
52212 11.98
52032 12.08
52122 12.08
52235 12.08
52325 12.13
52370 12.11
52415 12.18
52122 12.16
52212 12.18
52302 12.18
52460 12.23
52550 12.31
52595 12.35
52010 12.27
52100 12.27
52190 12.27
52302 12.29
52392 12.31
52482 12.37
52077 12.35
52235 12.35
52325 12.35
52415 12.42
52077 12.45
52258 12.52
52392 12.48
52415 12.55
52482 12.61
52550 12.63
52595 12.69
52788 12.27
52780 12.41
52825 12.47
52938 12.44
52870 12.52
52983 12.48
52938 12.55
53005 12.59
53095 12.67
53168 12.53
53258 12.59
53235 12.72
53145 12.63
52780 12.69
52758 12.76
52803 12.82
52870 12.77
52960 12.82
52938 12.87
53005 12.93
53118 12.97
53190 13.01
53258 13.05
53050 12.90
52988 12.47
53010 12.53
53033 12.61
53145 12.53
53190 12.58
53100 12.66
53258 12.63
53190 12.75
53303 12.67
53393 12.73
53460 12.84
53550 12.58
53573 12.66
53595 12.74
53618 12.80
52988 12.91
53055 12.96
53145 12.98
53213 13.00
53303 13.08
53393 13.11
53505 12.96
53528 13.09
53595 13.13
53618 13.19
53618 13.22
53505 13.22
51750 11.83
51850 11.83
51750 11.93
51850 11.93
51920 11.97
51790 12.03
51880 12.05
51950 12.07
52080 11.96
52165 11.98
52080 12.04
52165 12.04
52280 12.03
52170 12.12
52265 12.13
52345 12.20
52500 12.28
52150 12.22
52250 12.23
52350 12.24
52440 12.30
52530 12.38
52280 12.30
52360 12.30
52340 12.42
52470 12.50
52520 12.57
52430 12.47
52850 12.43
52900 12.48
52960 12.52
53040 12.63
53120 12.60
53200 12.66
52820 12.75
52900 12.81
52980 12.87
53070 12.93
53160 12.98
53230 13.03
53340 13.10
53080 12.55
53220 12.65
53300 12.72
};
% V and B around Min. III
\addplot[dot] table {
53933 12.71
54000 12.77
53888 12.87
53955 12.79
54090 12.89
54090 13.01
54203 12.74
54225 12.82
54180 12.92
54158 13.02
54225 13.09
54270 13.15
54315 13.25
54338 13.19
54383 13.04
54405 12.93
54430 12.80
54450 12.69
54540 13.11
54560 13.01
54585 12.87
54610 12.58
54630 12.64
54662 12.71
54675 12.80
54698 12.87
54720 13.03
54765 12.98
54833 12.87
54910 12.67
54945 12.93
54968 13.01
55035 12.80
55058 12.52
55080 12.59
55058 12.65
55140 12.80
55193 12.87
55215 12.99
55260 12.67
55283 12.48
55305 12.55
55350 12.61
55350 12.90
55395 12.98
55450 12.71
55500 12.61
55553 12.39
55598 12.51
55643 12.55
55620 12.63
53888 13.29
53978 13.25
54068 13.29
54090 13.37
54158 13.43
54225 13.42
54135 13.50
54270 13.48
54293 13.58
54338 13.64
54405 13.58
54440 13.73
54440 13.84
54450 13.48
54495 13.43
54540 13.51
54563 13.35
54630 13.27
54698 13.32
54765 13.43
54788 13.33
54878 13.38
54968 13.38
55013 13.35
55058 13.21
55125 13.29
55193 13.25
55283 13.16
55305 13.35
55373 13.22
55440 13.20
55508 13.11
55575 13.05
55643 13.06
55688 12.98
53950 13.29
54020 13.27
54120 13.38
54180 13.44
54200 13.52
54240 13.50
54310 13.55
54360 13.60
54385 13.50
54440 13.43
54480 13.50
54520 13.40
54600 13.30
54660 13.30
54730 13.35
54830 13.36
54920 13.37
55100 13.30
55160 13.27
55240 13.22
55340 13.20
55410 13.15
55470 13.13
55540 13.07
55600 13.05
54200 12.85
54190 12.97
54240 13.00
54200 13.10
54250 13.05
54290 13.08
54280 13.20
54310 13.05
54340 13.05
54360 12.95
54390 12.85
54290 13.15
54320 13.18
54260 12.90
54230 12.95
54165 12.85
54050 12.80
54010 12.85
53990 12.90
53910 12.80
54130 12.95
54110 13.03
54590 12.95
54620 12.72
54650 12.80
54690 12.95
54700 12.65
54580 12.78
};
% open squares I R
\addplot[box] table {
55922 8.49
56152 8.53
56175 8.57
56197 8.62
56206 8.65
55733 8.69
55742 8.77
55778 8.77
55980 8.74
55949 8.78
55967 8.84
56017 8.90
56138 8.74
56372 8.75
56476 8.66
56579 8.57
56665 8.53
56804 8.56
56826 8.59
56656 8.61
56566 8.69
56656 8.68
56624 8.76
56642 8.76
56867 8.77
56916 8.76
56957 8.94
56714 8.91
56498 8.93
56246 8.99
56745 9.08
56286 9.13
56530 9.14
56035 9.23
55800 8.99
55800 9.07
55845 9.46
55868 9.45
55855 9.54
57240 8.69
57240 8.78
57475 8.49
57727 8.50
57389 8.89
57434 8.90
57533 8.92
57614 9.00
57636 9.17
55922 10.44
55994 10.51
56003 10.52
55958 10.62
56039 10.62
55742 10.62
55778 10.62
55733 10.66
55800 10.73
55800 10.78
55868 10.86
55832 10.94
55859 10.92
56152 10.28
56192 10.33
56183 10.30
56250 10.24
56138 10.36
56286 10.43
56372 10.29
56476 10.32
56498 10.21
56566 10.35
56520 10.33
56624 10.20
56656 10.18
56714 10.14
56642 10.25
56745 10.37
56804 10.41
56826 10.26
56867 10.33
56916 10.41
56957 10.45
57240 10.63
57240 10.68
57389 10.70
57533 10.69
57727 10.59
57434 10.97
57479 11.05
57623 10.95
57636 11.12
};
% open squares U V B
\addplot[box] table {
55712 11.69
55778 11.63
55733 11.75
55845 11.79
55890 11.72
55958 11.65
56025 11.68
55980 11.61
56070 11.55
56115 11.58
56152 11.50
56197 11.52
56264 11.60
56228 11.49
56381 11.46
56493 11.52
56557 11.55
56602 11.58
56669 11.60
56737 11.65
56804 11.62
56835 11.68
56916 11.78
56957 11.82
55737 11.78
55872 11.78
57241 11.99
57264 12.03
57277 12.07
57389 12.15
57434 12.22
57533 12.21
57578 12.26
57601 12.31
57623 12.34
57668 12.34
57727 12.40
55922 12.05
55710 12.25
55742 12.30
55778 12.28
55733 12.34
55994 12.25
55958 12.33
56057 12.35
55967 12.42
56138 12.40
56017 12.43
56098 12.53
56165 12.22
56188 12.25
56197 12.30
56260 12.33
56305 12.38
56372 12.23
56476 12.33
56579 12.28
56669 12.23
56647 12.25
56638 12.40
56804 12.33
56826 12.37
56498 12.51
56520 12.51
56714 12.50
56867 12.49
56916 12.56
56745 12.60
56957 12.70
55800 12.45
55845 12.61
55868 12.62
55845 12.67
56057 12.61
56103 12.61
57240 12.55
57240 12.63
57285 12.66
57475 12.52
57389 12.87
57434 12.89
57533 12.79
57578 12.90
57601 12.97
57623 13.01
57646 13.07
57727 13.08
55742 12.92
55778 12.90
55710 12.93
55845 13.00
55868 13.02
55980 12.93
55949 12.81
56039 12.82
56084 12.84
56130 12.76
56184 12.74
56264 12.73
56363 12.64
56490 12.73
56570 12.69
56624 12.74
56669 12.72
56737 12.83
56804 12.77
56835 12.82
56916 12.93
56957 13.01
57240 13.13
57264 13.19
57285 13.24
57389 13.29
57475 13.22
57434 13.36
57556 13.34
57578 13.40
57623 13.45
57727 13.54
57668 13.45
};
\bandlbl{57148}{8.18}{I}
\bandlbl{57350}{10.21}{R}
\bandlbl{57418}{11.68}{U}
\bandlbl{56472}{11.92}{V}
\bandlbl{57148}{13.63}{B}
% bars at the top of the panel
\draw[ink,line width=0.8pt] (axis cs:54990,7.40)--(axis cs:54990,7.58);
\draw[ink,line width=0.8pt] (axis cs:55085,7.40)--(axis cs:55085,7.58);
\draw[ink,line width=0.8pt] (axis cs:55724,7.40)--(axis cs:55724,7.58);
\draw[ink,line width=0.8pt] (axis cs:55836,7.40)--(axis cs:55836,7.58);
\draw[ink,line width=0.8pt] (axis cs:56835,7.40)--(axis cs:56835,7.58);
\draw[ink,line width=0.8pt] (axis cs:57623,7.40)--(axis cs:57623,7.58);
\draw[ink,line width=0.8pt] (axis cs:57713,7.40)--(axis cs:57713,7.58);
% minima
\tikzset{minarrow/.style={ink,line width=0.65pt,-{Triangle[length=7.5pt,width=7.5pt]}},
  minlbl/.style={font=\fontsize{21.5}{21.5}\selectfont,text=ink,anchor=base west,inner sep=0pt}}
\draw[minarrow] (axis cs:45630,14.12)--(axis cs:44910,13.46);
\node[minlbl] at (axis cs:45712,14.41) {Min. I};
\draw[minarrow] (axis cs:49490,13.15)--(axis cs:49490,12.35);
\node[minlbl] at (axis cs:48591,13.48) {Min. II};
\draw[minarrow] (axis cs:54322,14.40)--(axis cs:54322,13.97);
\node[minlbl] at (axis cs:54484,14.55) {Min. III};
\end{axis}
\end{tikzpicture}
\end{document}
